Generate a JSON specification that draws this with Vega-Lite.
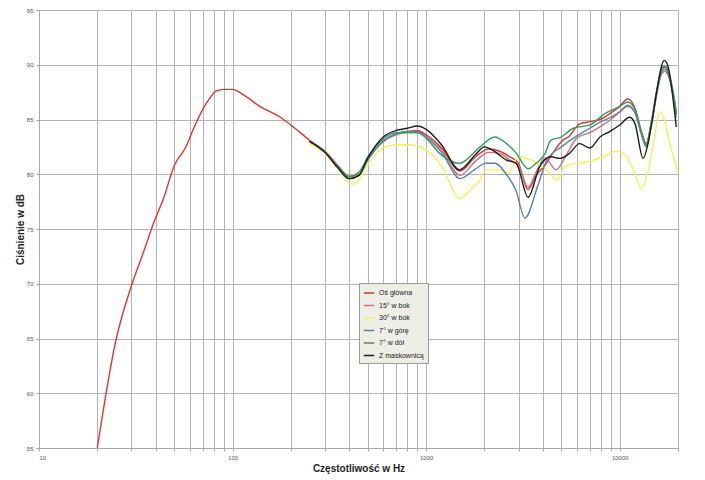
{
  "$schema": "https://vega.github.io/schema/vega-lite/v6.json",
  "width": 639,
  "height": 438,
  "autosize": "none",
  "padding": {"left": 39, "top": 10, "right": 27, "bottom": 32},
  "background": "white",
  "config": {
    "font": "Liberation Sans",
    "view": {"stroke": "#a8a8a8", "strokeWidth": 1}
  },
  "datasets": {
    "curves": [
      {"s":"Oś główna","f":20,"d":55},{"s":"Oś główna","f":25,"d":64.9},{"s":"Oś główna","f":30,"d":69.8},{"s":"Oś główna","f":35,"d":73.1},{"s":"Oś główna","f":39,"d":75.5},{"s":"Oś główna","f":44,"d":77.8},{"s":"Oś główna","f":50,"d":80.8},{"s":"Oś główna","f":57,"d":82.4},{"s":"Oś główna","f":63,"d":84.2},{"s":"Oś główna","f":70,"d":85.9},{"s":"Oś główna","f":76,"d":86.9},{"s":"Oś główna","f":82,"d":87.6},{"s":"Oś główna","f":90,"d":87.75},{"s":"Oś główna","f":100,"d":87.75},{"s":"Oś główna","f":115,"d":87.2},{"s":"Oś główna","f":138,"d":86.2},{"s":"Oś główna","f":175,"d":85.25},{"s":"Oś główna","f":210,"d":84.2},{"s":"Oś główna","f":250,"d":83.1},
      {"s":"Oś główna","f":300,"d":82.1},{"s":"Oś główna","f":350,"d":80.8},{"s":"Oś główna","f":400,"d":79.8},{"s":"Oś główna","f":450,"d":80.0},{"s":"Oś główna","f":500,"d":81.4},{"s":"Oś główna","f":600,"d":83.0},{"s":"Oś główna","f":700,"d":83.7},{"s":"Oś główna","f":800,"d":83.9},{"s":"Oś główna","f":900,"d":84.0},{"s":"Oś główna","f":1000,"d":83.6},{"s":"Oś główna","f":1200,"d":82.4},{"s":"Oś główna","f":1500,"d":80.3},{"s":"Oś główna","f":1800,"d":81.6},{"s":"Oś główna","f":2100,"d":82.3},{"s":"Oś główna","f":2400,"d":82.1},{"s":"Oś główna","f":2700,"d":81.6},{"s":"Oś główna","f":3000,"d":81.0},{"s":"Oś główna","f":3350,"d":78.6},{"s":"Oś główna","f":3700,"d":79.9},{"s":"Oś główna","f":4100,"d":80.8},{"s":"Oś główna","f":4500,"d":81.9},{"s":"Oś główna","f":5000,"d":83.0},{"s":"Oś główna","f":5500,"d":83.5},{"s":"Oś główna","f":6200,"d":84.6},{"s":"Oś główna","f":7000,"d":84.8},{"s":"Oś główna","f":7900,"d":85.0},{"s":"Oś główna","f":9000,"d":85.6},{"s":"Oś główna","f":10000,"d":86.2},{"s":"Oś główna","f":11000,"d":86.9},{"s":"Oś główna","f":12000,"d":86.0},{"s":"Oś główna","f":13000,"d":83.8},{"s":"Oś główna","f":13700,"d":82.8},{"s":"Oś główna","f":14500,"d":84.5},{"s":"Oś główna","f":15500,"d":87.5},{"s":"Oś główna","f":16500,"d":89.6},{"s":"Oś główna","f":17100,"d":89.8},{"s":"Oś główna","f":18000,"d":89.0},{"s":"Oś główna","f":19000,"d":87.0},{"s":"Oś główna","f":19600,"d":85.5},

      {"s":"15° w bok","f":250,"d":83.0},{"s":"15° w bok","f":300,"d":82.1},{"s":"15° w bok","f":350,"d":80.8},{"s":"15° w bok","f":400,"d":79.8},{"s":"15° w bok","f":450,"d":80.0},{"s":"15° w bok","f":500,"d":81.4},{"s":"15° w bok","f":600,"d":83.0},{"s":"15° w bok","f":700,"d":83.6},{"s":"15° w bok","f":800,"d":83.8},{"s":"15° w bok","f":900,"d":83.8},{"s":"15° w bok","f":1000,"d":83.4},{"s":"15° w bok","f":1200,"d":82.2},{"s":"15° w bok","f":1500,"d":79.9},{"s":"15° w bok","f":1800,"d":81.2},{"s":"15° w bok","f":2100,"d":82.0},{"s":"15° w bok","f":2400,"d":81.9},{"s":"15° w bok","f":2700,"d":81.3},{"s":"15° w bok","f":3000,"d":80.8},{"s":"15° w bok","f":3360,"d":78.8},{"s":"15° w bok","f":3700,"d":80.2},{"s":"15° w bok","f":4100,"d":81.5},{"s":"15° w bok","f":4700,"d":80.4},{"s":"15° w bok","f":5200,"d":81.5},{"s":"15° w bok","f":6000,"d":83.3},{"s":"15° w bok","f":7000,"d":83.8},{"s":"15° w bok","f":8000,"d":84.4},{"s":"15° w bok","f":9000,"d":85.0},{"s":"15° w bok","f":10000,"d":85.7},{"s":"15° w bok","f":11000,"d":86.3},{"s":"15° w bok","f":12000,"d":85.6},{"s":"15° w bok","f":13000,"d":83.6},{"s":"15° w bok","f":13700,"d":82.6},{"s":"15° w bok","f":14500,"d":84.3},{"s":"15° w bok","f":15500,"d":87.2},{"s":"15° w bok","f":16500,"d":89.2},{"s":"15° w bok","f":17100,"d":89.4},{"s":"15° w bok","f":18000,"d":88.8},{"s":"15° w bok","f":19000,"d":87.2},{"s":"15° w bok","f":19600,"d":85.8},

      {"s":"30° w bok","f":250,"d":82.8},{"s":"30° w bok","f":300,"d":81.9},{"s":"30° w bok","f":350,"d":80.5},{"s":"30° w bok","f":400,"d":79.2},{"s":"30° w bok","f":420,"d":79.1},{"s":"30° w bok","f":450,"d":79.5},{"s":"30° w bok","f":500,"d":80.9},{"s":"30° w bok","f":600,"d":82.4},{"s":"30° w bok","f":700,"d":82.7},{"s":"30° w bok","f":800,"d":82.7},{"s":"30° w bok","f":900,"d":82.6},{"s":"30° w bok","f":1000,"d":82.2},{"s":"30° w bok","f":1175,"d":81.0},{"s":"30° w bok","f":1300,"d":79.5},{"s":"30° w bok","f":1485,"d":77.8},{"s":"30° w bok","f":1700,"d":78.6},{"s":"30° w bok","f":1900,"d":79.5},{"s":"30° w bok","f":2040,"d":80.4},{"s":"30° w bok","f":2400,"d":80.4},{"s":"30° w bok","f":2640,"d":80.1},{"s":"30° w bok","f":3000,"d":81.6},{"s":"30° w bok","f":3470,"d":81.3},{"s":"30° w bok","f":4120,"d":80.5},{"s":"30° w bok","f":4770,"d":79.5},{"s":"30° w bok","f":5200,"d":80.7},{"s":"30° w bok","f":6000,"d":81.0},{"s":"30° w bok","f":7000,"d":81.2},{"s":"30° w bok","f":8200,"d":81.6},{"s":"30° w bok","f":9600,"d":82.1},{"s":"30° w bok","f":10860,"d":81.6},{"s":"30° w bok","f":12000,"d":80.0},{"s":"30° w bok","f":12900,"d":78.7},{"s":"30° w bok","f":13800,"d":79.8},{"s":"30° w bok","f":15000,"d":83.0},{"s":"30° w bok","f":16070,"d":85.7},{"s":"30° w bok","f":17000,"d":85.0},{"s":"30° w bok","f":17800,"d":83.4},{"s":"30° w bok","f":19000,"d":81.5},{"s":"30° w bok","f":20000,"d":80.2},

      {"s":"7° w górę","f":250,"d":83.0},{"s":"7° w górę","f":300,"d":82.0},{"s":"7° w górę","f":350,"d":80.6},{"s":"7° w górę","f":400,"d":79.6},{"s":"7° w górę","f":450,"d":79.9},{"s":"7° w górę","f":500,"d":81.3},{"s":"7° w górę","f":600,"d":83.0},{"s":"7° w górę","f":700,"d":83.7},{"s":"7° w górę","f":800,"d":83.9},{"s":"7° w górę","f":900,"d":83.9},{"s":"7° w górę","f":1000,"d":83.4},{"s":"7° w górę","f":1200,"d":82.0},{"s":"7° w górę","f":1500,"d":79.6},{"s":"7° w górę","f":1800,"d":80.5},{"s":"7° w górę","f":2040,"d":81.0},{"s":"7° w górę","f":2260,"d":81.0},{"s":"7° w górę","f":2640,"d":79.8},{"s":"7° w górę","f":2900,"d":78.6},{"s":"7° w górę","f":3240,"d":76.0},{"s":"7° w górę","f":3780,"d":79.0},{"s":"7° w górę","f":4200,"d":81.3},{"s":"7° w górę","f":5000,"d":82.5},{"s":"7° w górę","f":6000,"d":83.5},{"s":"7° w górę","f":7000,"d":84.2},{"s":"7° w górę","f":8000,"d":84.8},{"s":"7° w górę","f":9000,"d":85.2},{"s":"7° w górę","f":10000,"d":85.7},{"s":"7° w górę","f":11000,"d":86.2},{"s":"7° w górę","f":12000,"d":85.6},{"s":"7° w górę","f":13000,"d":83.5},{"s":"7° w górę","f":13700,"d":82.5},{"s":"7° w górę","f":14500,"d":84.4},{"s":"7° w górę","f":15500,"d":87.3},{"s":"7° w górę","f":16500,"d":89.4},{"s":"7° w górę","f":17100,"d":89.6},{"s":"7° w górę","f":18000,"d":88.9},{"s":"7° w górę","f":19000,"d":86.8},{"s":"7° w górę","f":19600,"d":85.2},

      {"s":"7° w dół","f":250,"d":83.0},{"s":"7° w dół","f":300,"d":82.0},{"s":"7° w dół","f":350,"d":80.7},{"s":"7° w dół","f":400,"d":79.8},{"s":"7° w dół","f":450,"d":80.2},{"s":"7° w dół","f":500,"d":81.6},{"s":"7° w dół","f":600,"d":83.2},{"s":"7° w dół","f":700,"d":83.8},{"s":"7° w dół","f":800,"d":83.8},{"s":"7° w dół","f":900,"d":83.8},{"s":"7° w dół","f":1000,"d":83.3},{"s":"7° w dół","f":1175,"d":81.9},{"s":"7° w dół","f":1485,"d":81.0},{"s":"7° w dół","f":1900,"d":82.5},{"s":"7° w dół","f":2260,"d":83.4},{"s":"7° w dół","f":2600,"d":82.8},{"s":"7° w dół","f":2900,"d":82.0},{"s":"7° w dół","f":3360,"d":80.5},{"s":"7° w dół","f":3700,"d":81.0},{"s":"7° w dół","f":4120,"d":81.9},{"s":"7° w dół","f":4400,"d":83.1},{"s":"7° w dół","f":4980,"d":83.4},{"s":"7° w dół","f":5760,"d":84.2},{"s":"7° w dół","f":7000,"d":84.5},{"s":"7° w dół","f":8500,"d":85.6},{"s":"7° w dół","f":10000,"d":86.2},{"s":"7° w dół","f":11000,"d":86.6},{"s":"7° w dół","f":12000,"d":85.9},{"s":"7° w dół","f":13000,"d":83.7},{"s":"7° w dół","f":13700,"d":82.7},{"s":"7° w dół","f":14500,"d":84.6},{"s":"7° w dół","f":15500,"d":87.6},{"s":"7° w dół","f":16500,"d":89.7},{"s":"7° w dół","f":17100,"d":89.9},{"s":"7° w dół","f":18000,"d":89.2},{"s":"7° w dół","f":19000,"d":87.2},{"s":"7° w dół","f":19600,"d":85.5},

      {"s":"Z maskownicą","f":250,"d":83.0},{"s":"Z maskownicą","f":300,"d":82.0},{"s":"Z maskownicą","f":350,"d":80.6},{"s":"Z maskownicą","f":400,"d":79.6},{"s":"Z maskownicą","f":450,"d":79.9},{"s":"Z maskownicą","f":500,"d":81.5},{"s":"Z maskownicą","f":600,"d":83.4},{"s":"Z maskownicą","f":700,"d":84.0},{"s":"Z maskownicą","f":800,"d":84.2},{"s":"Z maskownicą","f":900,"d":84.4},{"s":"Z maskownicą","f":1000,"d":84.1},{"s":"Z maskownicą","f":1200,"d":82.7},{"s":"Z maskownicą","f":1485,"d":80.4},{"s":"Z maskownicą","f":1800,"d":81.8},{"s":"Z maskownicą","f":2000,"d":82.5},{"s":"Z maskownicą","f":2200,"d":82.2},{"s":"Z maskownicą","f":2600,"d":81.3},{"s":"Z maskownicą","f":2920,"d":81.0},{"s":"Z maskownicą","f":3360,"d":77.9},{"s":"Z maskownicą","f":3860,"d":80.7},{"s":"Z maskownicą","f":4400,"d":81.6},{"s":"Z maskownicą","f":4900,"d":81.45},{"s":"Z maskownicą","f":5500,"d":81.9},{"s":"Z maskownicą","f":6200,"d":82.8},{"s":"Z maskownicą","f":7000,"d":82.4},{"s":"Z maskownicą","f":7900,"d":83.4},{"s":"Z maskownicą","f":8870,"d":83.9},{"s":"Z maskownicą","f":10000,"d":84.5},{"s":"Z maskownicą","f":11250,"d":85.2},{"s":"Z maskownicą","f":12000,"d":84.6},{"s":"Z maskownicą","f":13200,"d":81.45},{"s":"Z maskownicą","f":14000,"d":82.8},{"s":"Z maskownicą","f":14830,"d":85.25},{"s":"Z maskownicą","f":15500,"d":87.5},{"s":"Z maskownicą","f":17000,"d":90.4},{"s":"Z maskownicą","f":17800,"d":89.8},{"s":"Z maskownicą","f":18500,"d":88.0},{"s":"Z maskownicą","f":19600,"d":84.3}
    ]
  },
  "data": {"name": "curves"},
  "mark": {"type": "line", "interpolate": "monotone", "strokeWidth": 1.4},
  "encoding": {
    "x": {
      "field": "f", "type": "quantitative",
      "scale": {"type": "log", "domain": [10, 20000], "nice": false},
      "axis": {
        "title": "Częstotliwość w Hz",
        "titleFontSize": 10, "titleFontWeight": "bold", "titleColor": "#222", "titlePadding": 3,
        "values": [10,20,30,40,50,60,70,80,90,100,200,300,400,500,600,700,800,900,1000,2000,3000,4000,5000,6000,7000,8000,9000,10000,20000],
        "format": "d",
        "labelExpr": "indexof(['10','100','1000','10000'], datum.label) >= 0 ? datum.label : ''",
        "labelFontSize": 6, "labelColor": "#555", "labelPadding": 3,
        "grid": true, "gridColor": "#b4b4b4", "gridWidth": 1,
        "domainColor": "#a8a8a8", "tickColor": "#a8a8a8", "tickSize": 3
      }
    },
    "y": {
      "field": "d", "type": "quantitative",
      "scale": {"domain": [55, 95], "nice": false, "zero": false},
      "axis": {
        "title": "Ciśnienie w dB",
        "titleFontSize": 10, "titleFontWeight": "bold", "titleColor": "#222", "titlePadding": 1,
        "values": [55,60,65,70,75,80,85,90,95],
        "labelFontSize": 6, "labelColor": "#555", "labelPadding": 3,
        "grid": true, "gridColor": "#b4b4b4", "gridWidth": 1,
        "domainColor": "#a8a8a8", "tickColor": "#a8a8a8", "tickSize": 3
      }
    },
    "color": {
      "field": "s", "type": "nominal",
      "scale": {
        "domain": ["Oś główna", "15° w bok", "30° w bok", "7° w górę", "7° w dół", "Z maskownicą"],
        "range": ["#e0352e", "#c9747e", "#f2f25a", "#5b82ab", "#2f9e5e", "#1e1e1e"]
      },
      "legend": {
        "title": null,
        "orient": "none", "legendX": 320, "legendY": 273,
        "symbolType": "stroke", "symbolSize": 110, "symbolStrokeWidth": 1.5,
        "labelFontSize": 7, "labelColor": "#222",
        "rowPadding": 3.5, "padding": 4,
        "fillColor": "#eeede6", "strokeColor": "#9a9a9a"
      }
    }
  }
}
